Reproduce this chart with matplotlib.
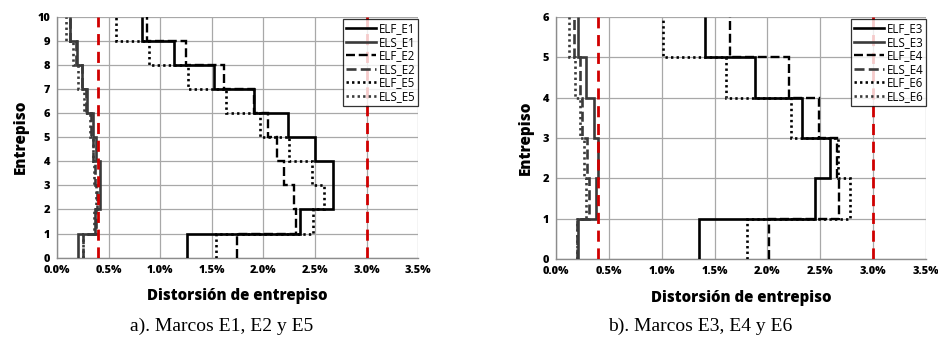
import numpy as np
import matplotlib
matplotlib.use("Agg")
import matplotlib.pyplot as plt
from matplotlib.ticker import FuncFormatter, MultipleLocator
from matplotlib import font_manager as fm

# ---- data (interstorey drift, %; storey 1..N) ----
storeys_a = np.arange(1, 11)
ELF_E1 = [1.26, 2.35, 2.67, 2.67, 2.50, 2.24, 1.91, 1.52, 1.13, 0.82]
ELS_E1 = [0.20, 0.37, 0.42, 0.42, 0.38, 0.35, 0.29, 0.24, 0.19, 0.13]
ELF_E2 = [1.74, 2.32, 2.30, 2.20, 2.13, 2.04, 1.91, 1.62, 1.25, 0.87]
ELS_E2 = [0.25, 0.38, 0.39, 0.37, 0.35, 0.33, 0.28, 0.24, 0.18, 0.13]
ELF_E5 = [1.54, 2.48, 2.59, 2.47, 2.25, 1.97, 1.64, 1.27, 0.89, 0.57]
ELS_E5 = [0.25, 0.36, 0.38, 0.36, 0.35, 0.32, 0.26, 0.20, 0.15, 0.09]

storeys_b = np.arange(1, 7)
ELF_E3 = [1.35, 2.45, 2.59, 2.33, 1.88, 1.41]
ELS_E3 = [0.21, 0.38, 0.40, 0.36, 0.28, 0.21]
ELF_E4 = [2.01, 2.68, 2.66, 2.49, 2.20, 1.65]
ELS_E4 = [0.20, 0.31, 0.29, 0.25, 0.23, 0.17]
ELF_E6 = [1.81, 2.78, 2.67, 2.22, 1.61, 1.01]
ELS_E6 = [0.20, 0.28, 0.26, 0.23, 0.18, 0.12]

limits = [0.4, 3.0]
xlabel = "Distorsión de entrepiso"
ylabel = "Entrepiso"
caption_a = "a). Marcos E1, E2 y E5"
caption_b = "b). Marcos E3, E4 y E6"


def pick(cands):
    for c in cands:
        try:
            fm.findfont(fm.FontProperties(family=c), fallback_to_default=False)
            return c
        except Exception:
            continue
    return "DejaVu Sans"


NARROW = pick(["Liberation Sans Narrow", "Arial Narrow", "Open Sans", "Roboto"])
NARROW_IS_REAL = NARROW in ("Liberation Sans Narrow", "Arial Narrow")

fig = plt.figure(figsize=(9.38, 3.41), dpi=100)

dash = (0, (3.8, 1.6))
dot = (0, (0.9, 1.2))
styles = [
    dict(color="black", lw=1.9, ls="-"),
    dict(color="#3a3a3a", lw=1.9, ls="-"),
    dict(color="black", lw=1.7, ls=dash),
    dict(color="#3a3a3a", lw=1.9, ls=dash),
    dict(color="black", lw=1.9, ls=dot),
    dict(color="#3a3a3a", lw=1.9, ls=dot),
]


def draw(ax, storeys, series, names, nmax):
    edges = np.concatenate([[storeys[0] - 1], storeys])
    handles = []
    for vals, name, st in zip(series, names, styles):
        ax.stairs(vals, edges, orientation="horizontal", baseline=None,
                  color=st["color"], lw=st["lw"], linestyle=st["ls"],
                  label=name, zorder=3)
        h, = ax.plot([], [], color=st["color"], lw=st["lw"], ls=st["ls"])
        handles.append(h)
    for lim in limits:
        ax.axvline(lim, color="#d00000", lw=2.0, ls=(0, (4.0, 2.4)), zorder=4)
    ax.set_xlim(0, 3.5)
    ax.set_ylim(0, nmax)
    ax.xaxis.set_major_locator(MultipleLocator(0.5))
    ax.yaxis.set_major_locator(MultipleLocator(1))
    ax.xaxis.set_major_formatter(FuncFormatter(lambda v, p: f"{v:.1f}%"))
    ax.grid(True, color="#a8a8a8", lw=0.9)
    ax.set_axisbelow(True)
    for s in ["top", "right"]:
        ax.spines[s].set_visible(False)
    for s in ["left", "bottom"]:
        ax.spines[s].set_color("#8c8c8c")
        ax.spines[s].set_linewidth(1.0)
    ax.tick_params(length=0, pad=5)
    tsize = 8.5 if NARROW_IS_REAL else 7.9
    for lab in ax.get_xticklabels() + ax.get_yticklabels():
        lab.set_fontweight("heavy")
        lab.set_fontsize(tsize)
        lab.set_family([NARROW, "DejaVu Sans"])
    ax.set_xlabel(xlabel, fontsize=10.8, fontweight="heavy", labelpad=9,
                  family=[NARROW, "DejaVu Sans"])
    ax.set_ylabel(ylabel, fontsize=11, fontweight="heavy", labelpad=6,
                  family=[NARROW, "DejaVu Sans"])
    leg = ax.legend(handles, names, loc="upper right", bbox_to_anchor=(1.0, 0.99),
                    fancybox=False, frameon=True, handlelength=2.6,
                    handletextpad=0.2, borderpad=0.25, labelspacing=0.05,
                    borderaxespad=0.0,
                    prop=dict(family=[NARROW, "DejaVu Sans"],
                              size=9 if NARROW_IS_REAL else 8.3))
    leg.get_frame().set_edgecolor("black")
    leg.get_frame().set_linewidth(0.9)
    leg.set_zorder(5)


ax1 = fig.add_axes([0.0608, 0.2443, 0.385, 0.7067])
draw(ax1, storeys_a, [ELF_E1, ELS_E1, ELF_E2, ELS_E2, ELF_E5, ELS_E5],
     ["ELF_E1", "ELS_E1", "ELF_E2", "ELS_E2", "ELF_E5", "ELS_E5"], 10)

ax2 = fig.add_axes([0.5928, 0.2396, 0.3945, 0.7114])
draw(ax2, storeys_b, [ELF_E3, ELS_E3, ELF_E4, ELS_E4, ELF_E6, ELS_E6],
     ["ELF_E3", "ELS_E3", "ELF_E4", "ELS_E4", "ELF_E6", "ELS_E6"], 6)

fig.text(222 / 938, 1 - 326 / 341, caption_a, ha="center", va="center",
         fontsize=14, family="Liberation Serif")
fig.text(700 / 938, 1 - 326 / 341, caption_b, ha="center", va="center",
         fontsize=14, family="Liberation Serif")

fig.savefig("out.png", dpi=100)
